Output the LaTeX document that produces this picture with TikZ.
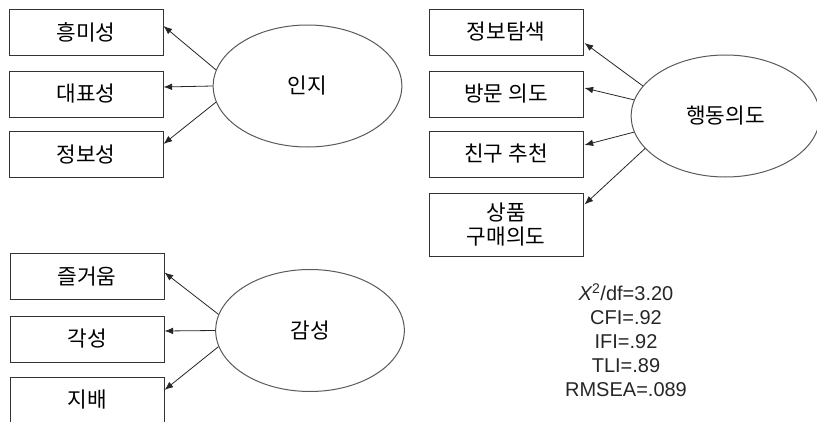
\documentclass[tikz,border=0pt]{standalone}
\usepackage{fontspec}
\setmainfont{Noto Sans CJK KR}
\newfontfamily\statfont{Liberation Sans}
\usetikzlibrary{shapes.geometric,arrows.meta,calc}

\begin{document}
\begin{tikzpicture}
            [
                x=0.75pt, y=-0.75pt,
                item/.style={draw=black!80, line width=0.75pt, inner sep=0pt,
                    minimum width=115.5pt, minimum height=34.5pt,
                    font=\fontsize{16}{18}\selectfont},
                factor/.style={ellipse, draw=black!65, line width=0.75pt, inner sep=0pt,
                    minimum width=141.5pt, minimum height=91.5pt,
                    font=\fontsize{16}{18}\selectfont},
                load/.style={-{Latex[length=6.5pt,width=5pt]}, draw=black!85, line width=0.6pt}
            ]
            \useasboundingbox (0,0) rectangle (817,421);

            % 인지
            \node[item] (fun) at (86,32) {흥미성};
            \node[item] (rep) at (86,94) {대표성};
            \node[item] (info) at (86,154) {정보성};
            \node[factor] (inji) at (307.5,86) {인지};

            % 행동의도
            \node[item] (search) at (506,32) {정보탐색};
            \node[item] (visit) at (506,94) {방문 의도};
            \node[item] (recom) at (506,154) {친구 추천};
            \node[item, minimum height=47.25pt, align=center] (buy) at (506,224.5) {상품\\구매의도};
            \node[factor] (intent) at (725.5,116) {행동의도};

            % 감성
            \node[item] (joy) at (87,276.5) {즐거움};
            \node[item] (arousal) at (87,339) {각성};
            \node[item] (domin) at (87,400) {지배};
            \node[factor] (emotion) at (310,330.5) {감성};

            % fit
            \node[align=center, font=\statfont\fontsize{15}{18}\selectfont, text=black!85] (fit) at (626,340) {
                {\itshape X}\textsuperscript{2}/df=3.20 \\
                CFI=.92 \\
                IFI=.92 \\
                TLI=.89 \\
                RMSEA=.089
            };

            \draw[load] (inji.170) -- ($(fun.east)+(0,-6)$);
            \draw[load] (inji.180) -- ($(rep.east)+(0,-7)$);
            \draw[load] (inji.190) -- ($(info.east)+(0,-10)$);

            \draw[load] (intent.160) -- ($(search.east)+(1,11)$);
            \draw[load] (intent.170) -- ($(visit.east)+(1,-6)$);
            \draw[load] (intent.190) -- ($(recom.east)+(1,-9)$);
            \draw[load] (intent.202) -- ($(buy.east)+(1,-20)$);

            \draw[load] (emotion.170) -- ($(joy.east)+(0,-4)$);
            \draw[load] (emotion.180) -- ($(arousal.east)+(0,-8)$);
            \draw[load] (emotion.190) -- ($(domin.east)+(0,-10)$);
\end{tikzpicture}
\end{document}
